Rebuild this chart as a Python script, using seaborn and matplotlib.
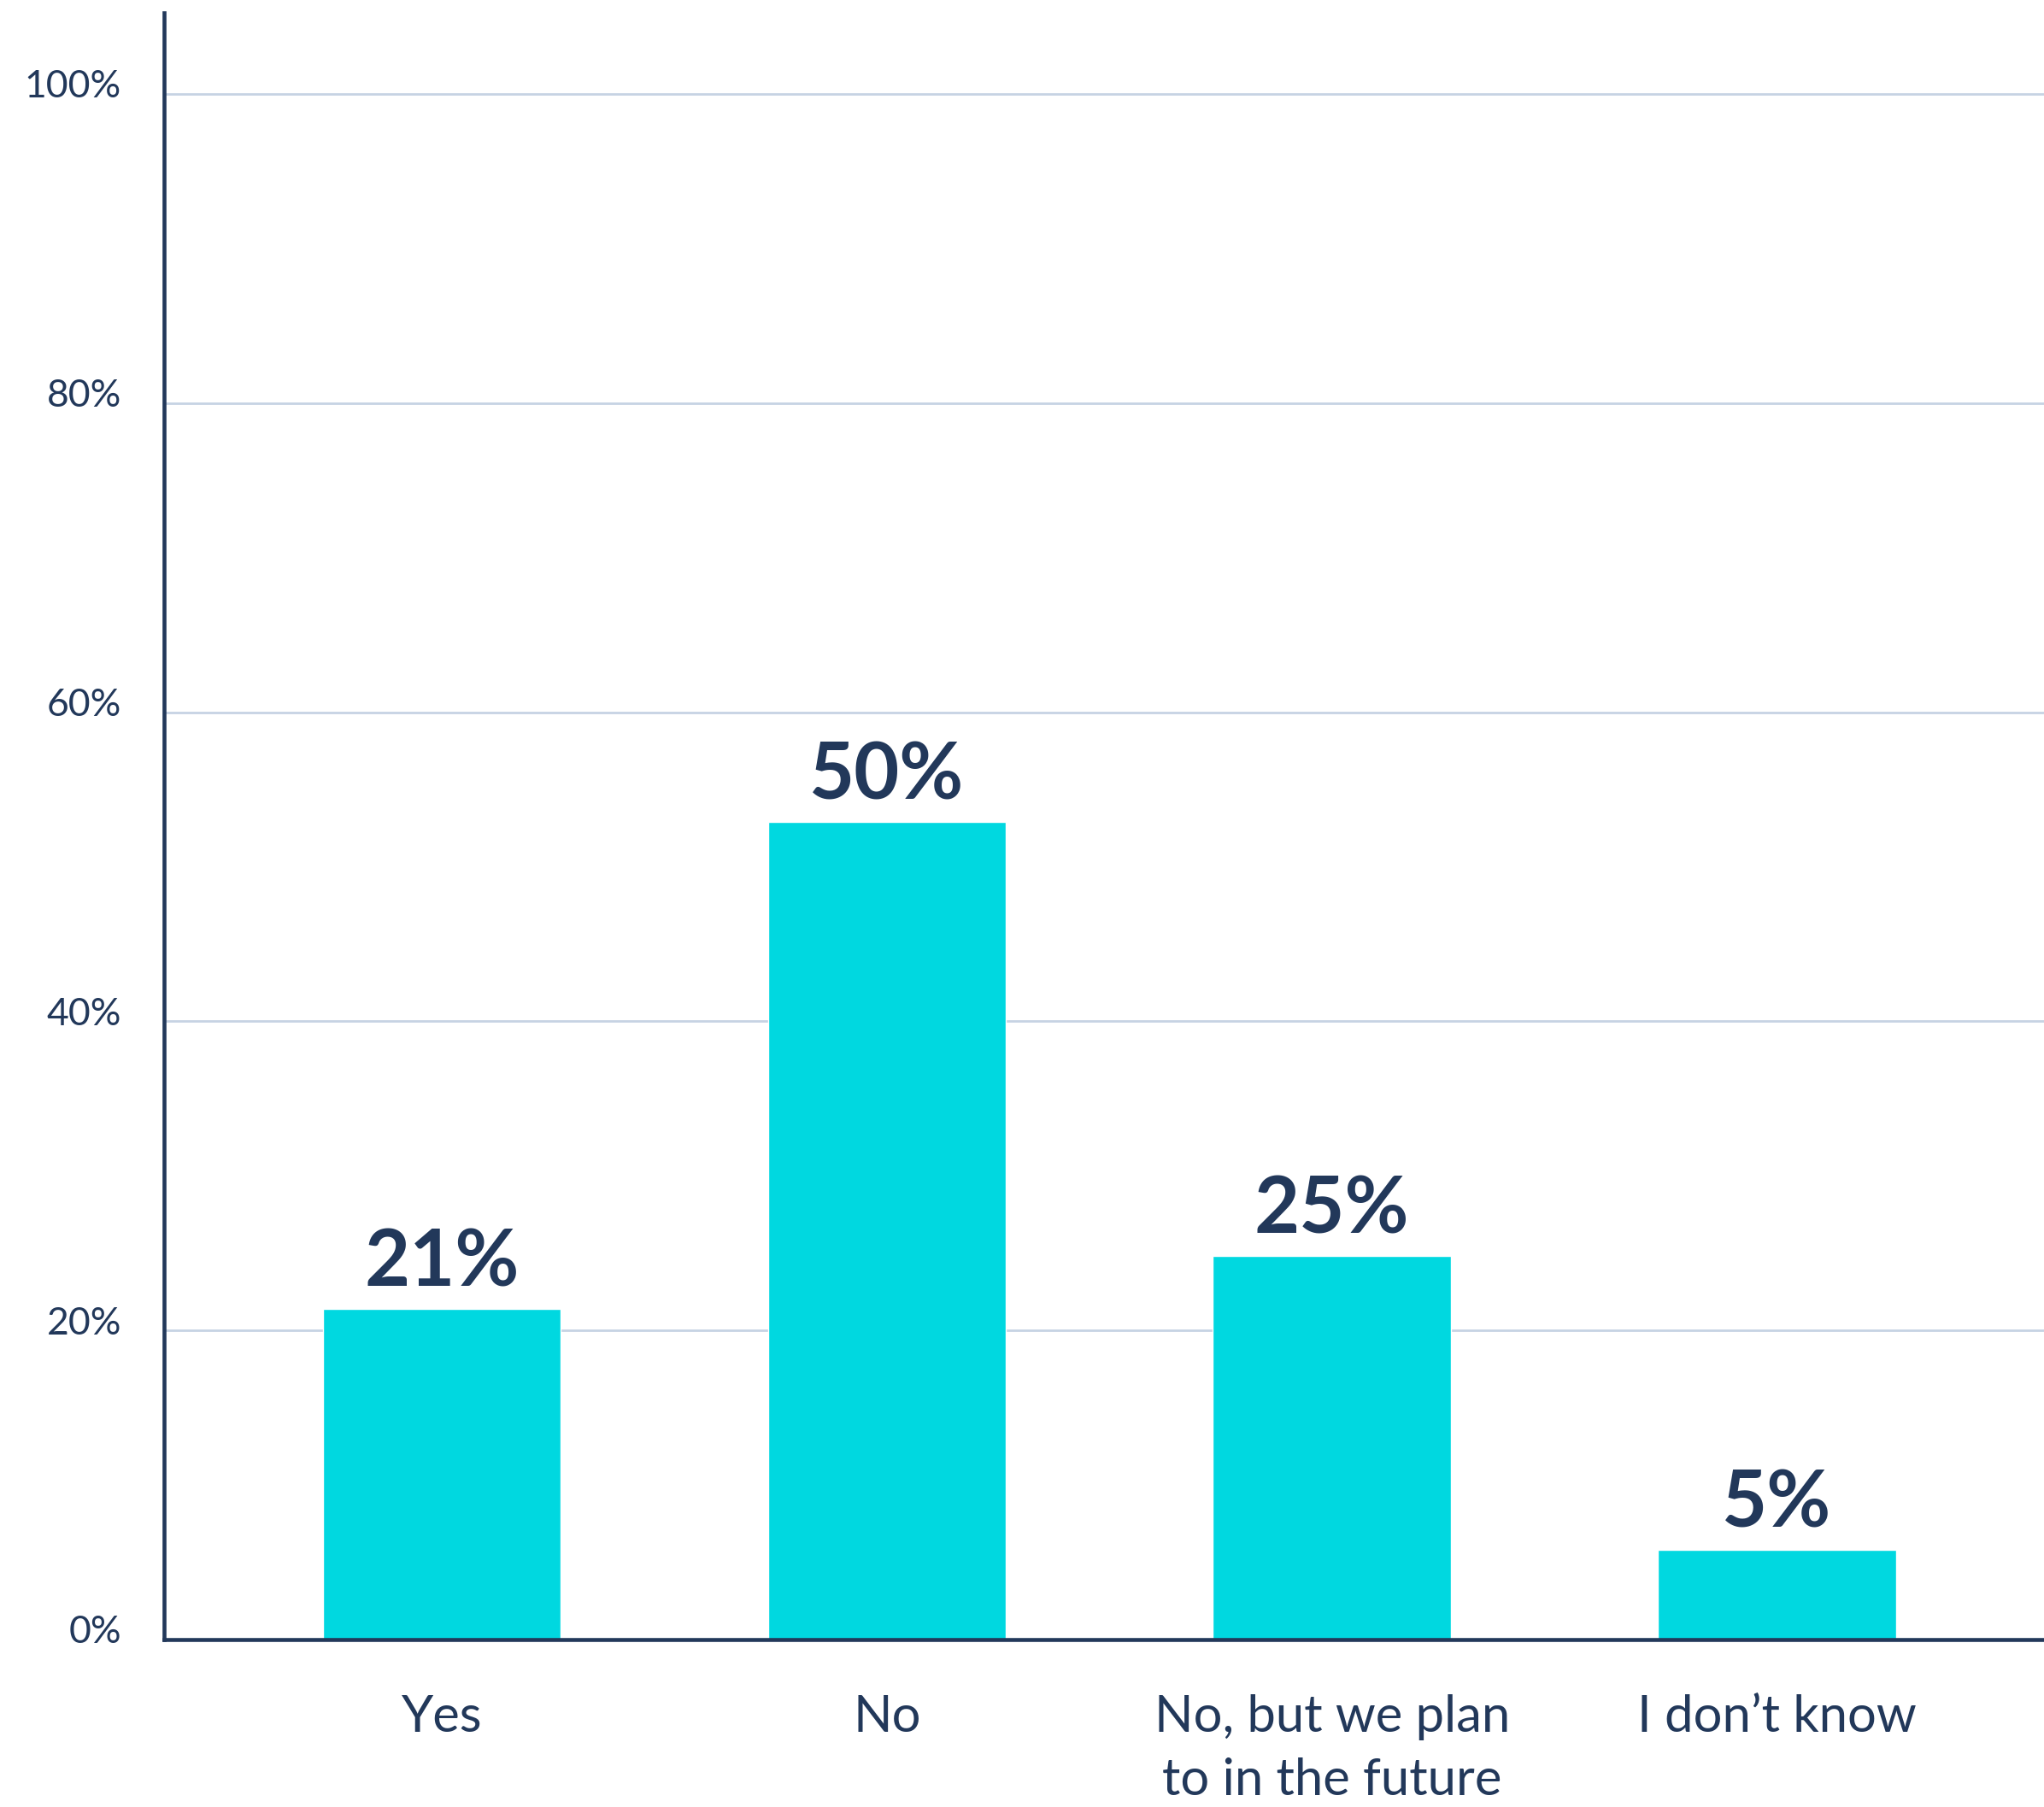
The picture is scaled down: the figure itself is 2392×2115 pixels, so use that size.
import matplotlib
matplotlib.use("Agg")
import matplotlib.pyplot as plt
import matplotlib.transforms as mtransforms
import seaborn as sns
import pandas as pd

categories = ["Yes", "No", "No, but we plan\nto in the future", "I don\u2019t know"]
values = [21.4, 52.9, 24.8, 5.8]
value_labels = ["21%", "50%", "25%", "5%"]
yticks = [0, 20, 40, 60, 80, 100]
ytick_labels = ["0%", "20%", "40%", "60%", "80%", "100%"]

navy = "#22385a"
bar_color = "#00d8e0"
grid_color = "#c6d3e3"

sns.set_theme(style="white")
plt.rcParams["font.family"] = ["Lato", "DejaVu Sans"]

df = pd.DataFrame({"answer": categories, "share": values})

fig = plt.figure(figsize=(23.92, 21.15), dpi=100)
ax = fig.add_axes([0.0803, 0.0927, 0.9197, 0.9002])

sns.barplot(data=df, x="answer", y="share", color=bar_color, saturation=1,
            width=0.535, ax=ax, zorder=3)

ax.set_xlim(-0.624, 3.6)
ax.set_ylim(0, 105.25)
ax.set_yticks(yticks)
ax.set_yticklabels(ytick_labels)
ax.set_xlabel("")
ax.set_ylabel("")

# gridlines
for y in yticks[1:]:
    ax.axhline(y, color=grid_color, linewidth=2, zorder=1)

for s in ["top", "right"]:
    ax.spines[s].set_visible(False)
for s in ["left", "bottom"]:
    ax.spines[s].set_color(navy)
    ax.spines[s].set_linewidth(3.3)
    ax.spines[s].set_zorder(4)

ax.tick_params(axis="y", length=0, pad=36, labelsize=32, labelcolor=navy)
ax.tick_params(axis="x", length=0, pad=46, labelsize=43, labelcolor=navy)
for lbl in ax.get_yticklabels():
    lbl.set_fontweight("normal")
    lbl.set_transform(lbl.get_transform() +
                      mtransforms.ScaledTranslation(0, 0.12, fig.dpi_scale_trans))
for lbl in ax.get_xticklabels():
    lbl.set_fontweight("normal")
    lbl.set_multialignment("center")
    lbl.set_linespacing(1.45)

# value labels above bars
for i, (v, t) in enumerate(zip(values, value_labels)):
    ax.annotate(t, (i, v), xytext=(0, 19), textcoords="offset points",
                ha="center", va="baseline", fontsize=66, fontweight="bold",
                color=navy, zorder=5)

fig.savefig("out.png", dpi=100, facecolor="white")
